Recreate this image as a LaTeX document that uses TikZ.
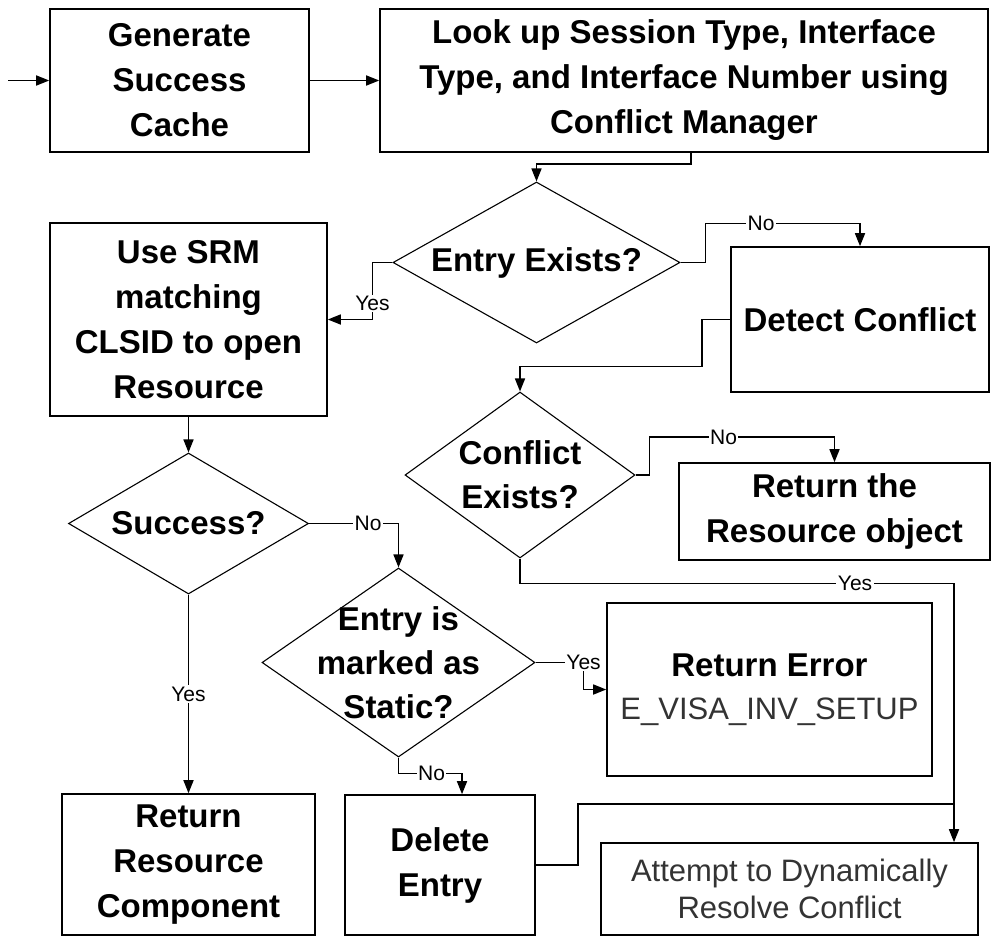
\documentclass[tikz,border=0pt]{standalone}
\usepackage{fontspec}
\setmainfont{Liberation Sans}
\usetikzlibrary{shapes.geometric,arrows.meta}

\begin{document}
\begin{tikzpicture}[x=1pt,y=-1pt,line width=1.6pt,
    arr/.style={-{Triangle[length=13pt,width=10pt]}},
    box/.style={draw,inner sep=0pt,align=center,font=\bfseries\fontsize{33}{45}\selectfont},
    plainbox/.style={box,font=\fontsize{31}{37}\selectfont,text=black!80},
    decision/.style={draw,diamond,line width=1.1pt,inner sep=0pt},
    dtext/.style={align=center,font=\bfseries\fontsize{33}{44}\selectfont},
    lbl/.style={fill=white,inner sep=1.5pt,font=\fontsize{21}{21}\selectfont}]
    \useasboundingbox (0,0) rectangle (992,937);
    \coordinate (start) at (8,80.5);
    \node[box, minimum width=259pt, minimum height=143pt] (gen) at (179.5,80.5) {Generate\\Success\\Cache};
    \node[box, minimum width=608pt, minimum height=143pt] (lookup) at (684,80.5) {Look up Session Type, Interface\\Type, and Interface Number using\\Conflict Manager};
    \node[decision, minimum width=287pt, minimum height=161pt, label={[dtext]center:Entry Exists?}] (exists) at (536.5,262.5) {};
    \node[box, minimum width=277pt, minimum height=193pt] (srm) at (188.5,319.5) {Use SRM\\matching\\CLSID to open\\Resource};
    \node[box, minimum width=258pt, minimum height=145pt] (detect) at (860,319.5) {Detect Conflict};
    \node[decision, minimum width=230pt, minimum height=166pt, label={[dtext]center:Conflict\\Exists?}] (conflict) at (520,475) {};
    \node[box, minimum width=311pt, minimum height=97pt] (retobj) at (834.5,511.5) {Return the\\Resource object};
    \node[decision, minimum width=240pt, minimum height=141pt, label={[dtext]center:Success?}] (success) at (188.5,523.5) {};
    \node[decision, minimum width=273pt, minimum height=189pt, label={[dtext]center:Entry is\\marked as\\Static?}] (static) at (398.5,662.5) {};
    \node[box, minimum width=325pt, minimum height=173pt] (reterr) at (769.5,689.5) {Return Error\\[-2pt]{\mdseries\fontsize{31}{37}\selectfont\color{black!80}E\_VISA\_INV\_SETUP}};
    \node[box, minimum width=253pt, minimum height=141pt] (retres) at (188.5,864.5) {Return\\Resource\\Component};
    \node[box, minimum width=190pt, minimum height=140pt] (delete) at (440,865) {Delete\\Entry};
    \node[plainbox, minimum width=377pt, minimum height=92pt] (resolve) at (789.5,889) {Attempt to Dynamically\\Resolve Conflict};
    \coordinate (join) at (954,804);
    \draw [arr] (start) -- (gen);
    \draw [arr] (gen) -- (lookup);
    \draw [arr] ([xshift=7pt]lookup.south) -- ++(0,11) -| (exists.north);
    \draw [arr] (exists.west) -- ++(-20,0) |- node[lbl,pos=0.36] {Yes} (srm.east);
    \draw [arr] (exists.east) -- ++(25,0) -- ++(0,-39) -| node[lbl,pos=0.18] {No} (detect.north);
    \draw [arr] (detect.west) -- ++(-28,0) -- ++(0,47) -| (conflict.north);
    \draw [arr] (conflict.east) -- ++(14,0) -- ++(0,-38) -| node[lbl,pos=0.2] {No} (retobj.north);
    \draw [arr] (conflict.south) -- ++(0,25) -| node[lbl,pos=0.386] {Yes} ([xshift=164.5pt]resolve.north);
    \draw [arr] (srm.south) -- (success.north);
    \draw [arr] (success.east) -| node[lbl,pos=0.33] {No} (static.north);
    \draw [arr] (success.south) -- node[lbl] {Yes} (retres.north);
    \draw [arr] (static.east) -- ++(48,0) node[lbl] {Yes} |- (reterr.west);
    \draw [arr] (static.south) -- ++(0,16) -| node[lbl,pos=0.26] {No} ([xshift=22pt]delete.north);
    \draw (delete.east) -- ++(42,0) |- (join);
    \end{tikzpicture}
\end{document}
